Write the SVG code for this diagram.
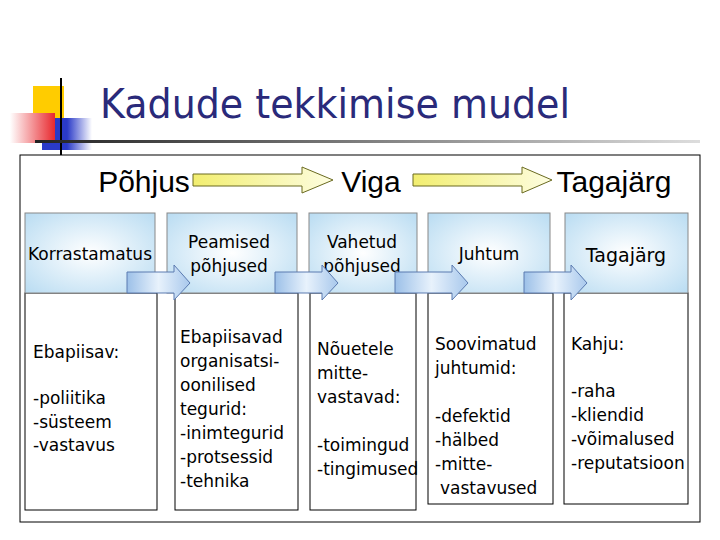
<svg xmlns="http://www.w3.org/2000/svg" width="720" height="540" viewBox="0 0 720 540">
<defs>
<radialGradient id="hb" cx="0.5" cy="0.5" r="0.7"><stop offset="0" stop-color="#ffffff"/><stop offset="1" stop-color="#b9dcf2"/></radialGradient>
<linearGradient id="ya" x1="0" y1="0" x2="1" y2="0"><stop offset="0" stop-color="#f2ee70"/><stop offset="1" stop-color="#fdfde0"/></linearGradient>
<linearGradient id="ba" x1="0" y1="0" x2="1" y2="0"><stop offset="0" stop-color="#9cc0e8"/><stop offset="0.5" stop-color="#e8f2fc"/><stop offset="1" stop-color="#a8c8ec"/></linearGradient>
<linearGradient id="red" x1="0" y1="0" x2="1" y2="0"><stop offset="0" stop-color="#ffffff"/><stop offset="1" stop-color="#e8282e"/></linearGradient>
<linearGradient id="blu" x1="0" y1="0" x2="1" y2="0"><stop offset="0.5" stop-color="#2a3ac8"/><stop offset="1" stop-color="#ffffff"/></linearGradient>
<linearGradient id="ln" x1="0" y1="0" x2="1" y2="0"><stop offset="0" stop-color="#222"/><stop offset="1" stop-color="#ddd"/></linearGradient>
</defs>
<style>
text{font-family:"DejaVu Sans",Verdana,sans-serif;fill:#000}
.h{font-size:30px;font-family:"Liberation Sans",Arial,sans-serif}
.t{font-size:17px}
.hb{fill:url(#hb);stroke:#888;stroke-width:1}
.lb{fill:#fff;stroke:#000;stroke-width:1}
.sa{fill:url(#ba);stroke:#5a7ab0;stroke-width:1}
.ya{fill:url(#ya);stroke:#6a6a20;stroke-width:1}
</style>
<g id="logo">
<rect x="33" y="86" width="31" height="32" fill="#ffcc00"/>
<rect x="42" y="118" width="50" height="32" fill="url(#blu)"/>
<rect x="10" y="113" width="45" height="30" fill="url(#red)"/>
<line x1="61" y1="78" x2="61" y2="160" stroke="#000" stroke-width="2"/>
<rect x="35" y="140" width="665" height="3" fill="url(#ln)"/>
</g>
<text x="100" y="118" font-size="40" textLength="470" lengthAdjust="spacingAndGlyphs" style="fill:#2a2a7a;font-family:'DejaVu Sans',Verdana,sans-serif">Kadude tekkimise mudel</text>
<rect x="20" y="155" width="680" height="367" fill="#fff" stroke="#000"/>
<g id="headers">
<text class="h" x="144" y="192" text-anchor="middle">Põhjus</text>
<text class="h" x="371" y="192" text-anchor="middle">Viga</text>
<text class="h" x="614" y="192" text-anchor="middle">Tagajärg</text>
</g>
<g id="n1"><rect class="lb" x="25" y="293" width="132" height="217"/><rect class="hb" x="25" y="213" width="130" height="80"/>
<text class="t" x="90" y="260" text-anchor="middle">Korrastamatus</text>
<text class="t" x="33" y="358">Ebapiisav:</text><text class="t" x="33" y="404">-poliitika</text><text class="t" x="33" y="428">-süsteem</text><text class="t" x="33" y="451">-vastavus</text></g>
<g id="n2"><rect class="lb" x="175" y="293" width="123" height="217"/><rect class="hb" x="167" y="213" width="130" height="80"/>
<text class="t" x="229" y="248" text-anchor="middle">Peamised</text><text class="t" x="229" y="272" text-anchor="middle">põhjused</text>
<text class="t" x="180" y="343">Ebapiisavad</text><text class="t" x="180" y="367">organisatsi-</text><text class="t" x="180" y="391">oonilised</text><text class="t" x="180" y="415">tegurid:</text><text class="t" x="180" y="439">-inimtegurid</text><text class="t" x="180" y="463">-protsessid</text><text class="t" x="180" y="487">-tehnika</text></g>
<g id="n3"><rect class="lb" x="310" y="293" width="106" height="217"/><rect class="hb" x="309" y="213" width="108" height="80"/>
<text class="t" x="362" y="248" text-anchor="middle">Vahetud</text><text class="t" x="362" y="272" text-anchor="middle">põhjused</text>
<text class="t" x="317" y="355">Nõuetele</text><text class="t" x="317" y="379">mitte-</text><text class="t" x="317" y="403">vastavad:</text><text class="t" x="317" y="451">-toimingud</text><text class="t" x="317" y="475">-tingimused</text></g>
<g id="n4"><rect class="lb" x="428" y="293" width="125" height="211"/><rect class="hb" x="428" y="213" width="122" height="80"/>
<text class="t" x="489" y="260" text-anchor="middle">Juhtum</text>
<text class="t" x="435" y="350">Soovimatud</text><text class="t" x="435" y="374">juhtumid:</text><text class="t" x="435" y="422">-defektid</text><text class="t" x="435" y="446">-hälbed</text><text class="t" x="435" y="470">-mitte-</text><text class="t" x="440" y="494">vastavused</text></g>
<g id="n5"><rect class="lb" x="564" y="293" width="124" height="211"/><rect class="hb" x="565" y="213" width="123" height="80"/>
<text x="626" y="262" text-anchor="middle" style="font-size:19px">Tagajärg</text>
<text class="t" x="571" y="350">Kahju:</text><text class="t" x="571" y="397">-raha</text><text class="t" x="571" y="421">-kliendid</text><text class="t" x="571" y="445">-võimalused</text><text class="t" x="571" y="469">-reputatsioon</text></g>
<g id="connectors">
<path class="ya" d="M193,174 H302 V167 L333,180 L302,193 V186 H193 Z"/>
<path class="ya" d="M413,174 H522 V167 L552,180 L522,193 V186 H413 Z"/>
<path class="sa" d="M127,272 H174 V265 L190,283 L174,300 V293 H127 Z"/>
<path class="sa" d="M275,272 H322 V265 L338,283 L322,300 V293 H275 Z"/>
<path class="sa" d="M395,272 H452 V265 L468,283 L452,300 V293 H395 Z"/>
<path class="sa" d="M524,272 H571 V265 L587,283 L571,300 V293 H524 Z"/>
</g>
</svg>
